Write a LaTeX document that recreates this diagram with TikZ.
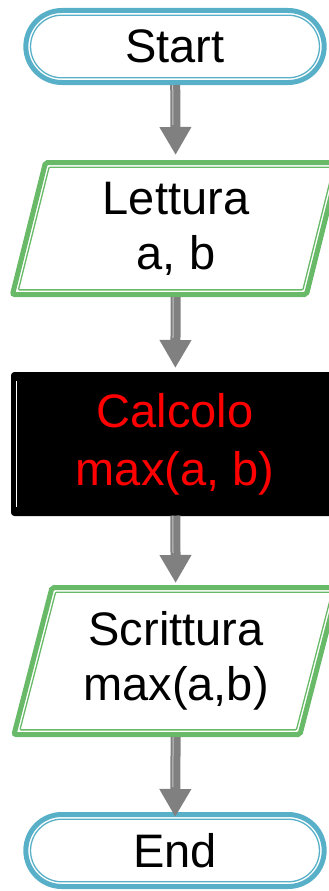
\documentclass[tikz,border=0pt]{standalone}
\usepackage{fontspec}
\setmainfont{Liberation Sans}
\usetikzlibrary{shapes.misc, arrows.meta, positioning}
\definecolor{termblue}{RGB}{88,176,200}
\definecolor{iogreen}{RGB}{104,186,104}
\definecolor{flowgray}{RGB}{128,128,128}

\begin{document}
\begin{tikzpicture}[x=1pt, y=-1pt,
    term/.style={rounded rectangle, draw=termblue, line width=5pt, fill=white,
                 minimum width=305pt, minimum height=72pt,
                 font=\fontsize{47}{54}\selectfont},
    termin/.style={rounded rectangle, draw=termblue, line width=1.3pt,
                   minimum width=295.6pt, minimum height=62.6pt},
    io/.style={rectangle, outer sep=0pt, align=center,
               font=\fontsize{47}{55}\selectfont},
    ioedge/.style={draw=iogreen, line width=5pt, rounded corners=2pt},
    ioline/.style={draw=iogreen, line width=1.3pt, rounded corners=1pt},
    proc/.style={rectangle, rounded corners=3pt, draw=black, fill=black,
                 line width=1pt, outer sep=0pt, text=red, align=center,
                 minimum width=327pt, minimum height=143pt,
                 font=\fontsize{47}{58}\selectfont},
    flow/.style={-{Triangle[width=30pt, length=28pt]}, line width=10pt,
                 draw=flowgray, shorten >=#1,
                 postaction={draw=gray!45, -, line width=1pt, shorten >=#1+30pt,
                             transform canvas={xshift=-2.5pt}}},
    flow/.default=2pt,
    inner/.style={white, line width=0.8pt}]

\useasboundingbox (0,0) rectangle (329,891);

%% Terminals
\node[term] (start) at (175,46.5) {Start};
\node[termin] (start-in) at (start.center) {};

\node[term] (end) at (175,850.5) {End};
\node[termin] (end-in) at (end.center) {};

%% Input / output (parallelogram drawn round the text box)
\node[io, minimum width=294pt, minimum height=132pt] (read) at (176,228.5)
    {Lettura\\a, b};
\node[io, minimum width=286pt, minimum height=147pt] (write) at (176,661)
    {Scrittura\\max(a,b)};

\draw[ioedge] ([xshift=-16.5pt]read.south west) -- ([xshift=16.5pt]read.north west)
    -- ([xshift=16.5pt]read.north east) -- ([xshift=-16.5pt]read.south east) -- cycle;
\draw[ioline] ([shift={(-10.55,-4.65)}]read.south west)
    -- ([shift={(20.13,4.65)}]read.north west)
    -- ([shift={(10.55,4.65)}]read.north east)
    -- ([shift={(-20.13,-4.65)}]read.south east) -- cycle;

\draw[ioedge] ([xshift=-19pt]write.south west) -- ([xshift=19pt]write.north west)
    -- ([xshift=19pt]write.north east) -- ([xshift=-19pt]write.south east) -- cycle;
\draw[ioline] ([shift={(-13.05,-4.65)}]write.south west)
    -- ([shift={(22.63,4.65)}]write.north west)
    -- ([shift={(13.05,4.65)}]write.north east)
    -- ([shift={(-22.63,-4.65)}]write.south east) -- cycle;

%% Process
\node[proc] (calc) at (175,444) {Calcolo\\max(a, b)};
\draw[inner] ([xshift=4.5pt, yshift=-8pt]calc.north west)
    -- ([xshift=4.5pt, yshift=9pt]calc.south west);

%% Flow
\draw[flow=7.5pt] (start) -- (read);
\draw[flow=4.5pt, shorten <=2.5pt] (read) -- (calc);
\draw[flow=4.5pt] (calc) -- (write);
\draw[flow=-5pt, shorten <=2.5pt] (write) -- (end);

\end{tikzpicture}
\end{document}
